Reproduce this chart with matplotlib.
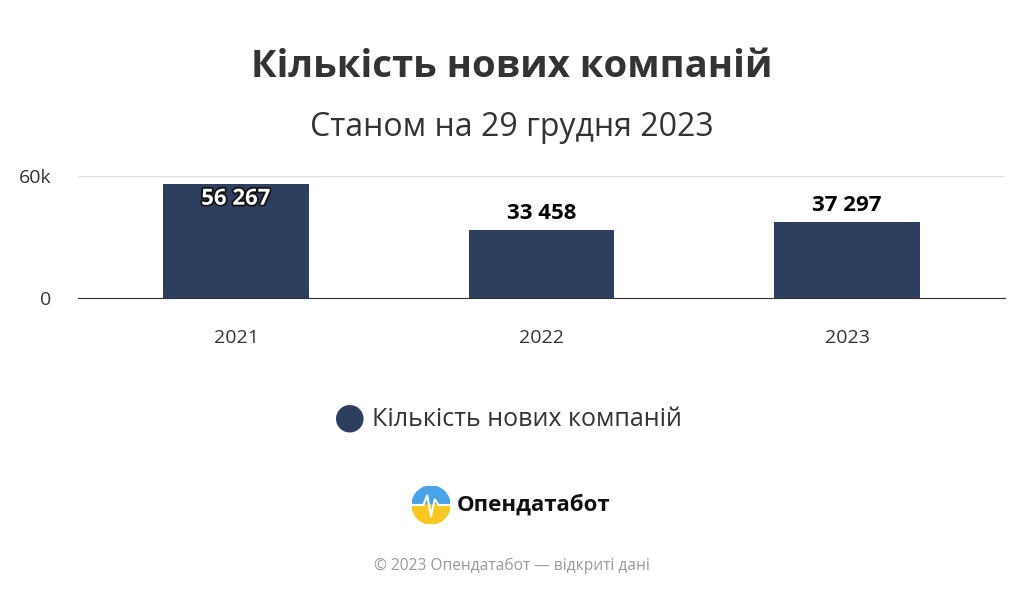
import matplotlib
matplotlib.use("Agg")
import matplotlib.pyplot as plt
import matplotlib.patheffects as pe
from matplotlib.patches import Wedge

years = ["2021", "2022", "2023"]
values = [56267, 33458, 37297]
labels = ["56 267", "33 458", "37 297"]
series_name = "Кількість нових компаній"

plt.rcParams['font.family'] = ['Open Sans', 'DejaVu Sans']
W, H = 1024, 597
fig = plt.figure(figsize=(W/100, H/100), dpi=100)
ax = fig.add_axes([78/W, 1-298/H, (1005-78)/W, 122/H])
x = range(len(years))
ax.bar(x, values, width=0.475, color="#2d3e5e")
ax.set_xlim(-0.517, 2.517)
ax.set_ylim(0, 60000)
ax.set_yticks([0, 60000])
ax.set_yticklabels(["0", "60k"])
ax.yaxis.grid(True, color="#e0e0e0", lw=1)
ax.set_axisbelow(True)
for s in ["top", "right", "left"]:
    ax.spines[s].set_visible(False)
ax.spines["bottom"].set_color("#333333")
ax.tick_params(axis="y", length=0, labelsize=14, colors="#333333", pad=19)
ax.tick_params(axis="x", length=0, labelsize=14, colors="#333333", pad=22)
ax.set_xticks(list(x))
ax.set_xticklabels(years)
for i, (v, l) in enumerate(zip(values, labels)):
    if v > 50000:
        ax.text(i, v - 2500, l, ha="center", va="top", fontsize=16, fontweight="bold",
                color="white", path_effects=[pe.withStroke(linewidth=2.5, foreground="#111111")])
    else:
        ax.text(i, v + 3000, l, ha="center", va="bottom", fontsize=16, fontweight="bold", color="black")

fig.text(0.5, 1-67/H, "Кількість нових компаній", ha="center", va="center", fontsize=27.5,
         fontweight="bold", color="#333333")
fig.text(0.5, 1-128/H, "Станом на 29 грудня 2023", ha="center", va="center", fontsize=23, color="#333333")
fig.text(350/W, 1-418/H, "●", ha="center", va="center", fontsize=26, color="#2d3e5e")
fig.text(372/W, 1-419/H, series_name, ha="left", va="center", fontsize=18, color="#333333")

lax = fig.add_axes([412/W, 1-524/H, 38/W, 38/H])
lax.set_xlim(-1, 1); lax.set_ylim(-1, 1); lax.set_aspect("equal"); lax.axis("off")
lax.add_patch(Wedge((0, 0), 1, 0, 180, color="#4aa3e8"))
lax.add_patch(Wedge((0, 0), 1, 180, 360, color="#f7c724"))
lax.plot([-1, -0.4, -0.2, 0.0, 0.2, 0.4, 1], [0, 0, 0.5, -0.6, 0.3, 0, 0], color="white", lw=1.5)
fig.text(457/W, 1-505/H, "Опендатабот", ha="left", va="center", fontsize=16, fontweight="bold", color="#111111")
fig.text(0.5, 1-566/H, "© 2023 Опендатабот — відкриті дані", ha="center", va="center", fontsize=11.2, color="#999999")

fig.savefig("out.png", dpi=100, facecolor="white")
